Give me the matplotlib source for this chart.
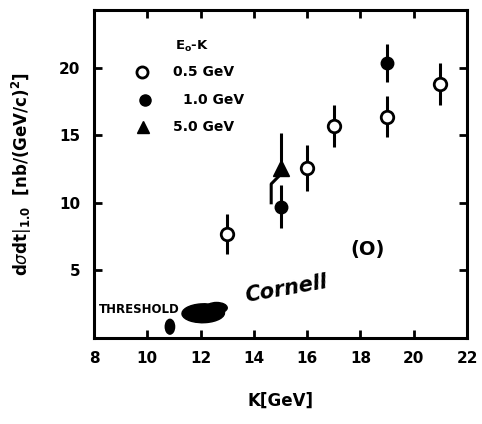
import matplotlib.pyplot as plt
from matplotlib.patches import Ellipse

# data
k_open = [13, 16, 17, 19, 21]
y_open = [7.7, 12.6, 15.7, 16.4, 18.8]
err_open = [1.5, 1.7, 1.55, 1.5, 1.55]

k_full = [15, 19]
y_full = [9.7, 20.4]
err_full = [1.6, 1.4]

k_tri = [15]
y_tri = [12.6]
err_tri_up = [2.6]
err_tri_lo = [2.6]

legend_labels = ['0.5 GeV', '1.0 GeV', '5.0 GeV']
xticks = [8, 10, 12, 14, 16, 18, 20, 22]
yticks = [5, 10, 15, 20]

plt.rcParams['font.family'] = ['DejaVu Sans']

fig = plt.figure(figsize=(4.82, 4.24), dpi=100)
ax = fig.add_axes([0.195, 0.204, 0.774, 0.772])

ebkw = dict(fmt='none', ecolor='black', elinewidth=2.2, capsize=0, zorder=2)

ax.errorbar(k_open, y_open, yerr=err_open, **ebkw)
ax.plot(k_open, y_open, 'o', ms=9, mfc='white', mec='black', mew=2, zorder=3)

ax.errorbar(k_full, y_full, yerr=err_full, **ebkw)
ax.plot(k_full, y_full, 'o', ms=9, color='black', zorder=3)

# triangle: upper bar straight, lower bar bent aside
ax.errorbar(k_tri, y_tri, yerr=[[0], err_tri_up], **ebkw)
for x, y, lo in zip(k_tri, y_tri, err_tri_lo):
    ax.plot([x - 0.05, x - 0.35, x - 0.35], [y - 0.6, y - 1.2, y - lo],
            color='black', lw=2.2, zorder=2)
ax.plot(k_tri, y_tri, '^', ms=11, color='black', zorder=3)

# legend drawn by hand like the original
ax.text(11.05, 21.6, r'E$_{\mathregular{o}}$-K', fontsize=9.5, fontweight='bold',
        va='center')
ax.plot([9.8], [19.7], 'o', ms=8, mfc='white', mec='black', mew=2)
ax.plot([9.9], [17.6], 'o', ms=8, color='black')
ax.plot([9.85], [15.6], '^', ms=9, color='black')
for lab, yy, xx in zip(legend_labels, [19.7, 17.6, 15.6], [10.97, 11.35, 10.97]):
    ax.text(xx, yy, lab, fontsize=10, fontweight='bold', va='center')

# annotations
ax.text(8.2, 2.1, 'THRESHOLD', fontsize=8.5, fontweight='bold', va='center')
ax.add_patch(Ellipse((12.1, 1.8), 1.6, 1.4, angle=8, color='black', zorder=4))
ax.add_patch(Ellipse((12.6, 2.2), 0.8, 0.8, color='black', zorder=4))
ax.add_patch(Ellipse((10.85, 0.8), 0.35, 1.1, color='black', zorder=4))
ax.text(15.2, 3.6, 'Cornell', fontsize=15, fontweight='bold', style='italic',
        rotation=10, ha='center', va='center')
ax.text(18.25, 6.5, '(O)', fontsize=14, fontweight='bold', ha='center',
        va='center')

ax.set_xlim(8, 22)
ax.set_ylim(0, 24.3)
ax.set_xticks(xticks)
ax.set_yticks(yticks)
ax.set_xticklabels([str(t) for t in xticks], fontsize=11, fontweight='bold')
ax.set_yticklabels([str(t) for t in yticks], fontsize=11, fontweight='bold')
ax.tick_params(direction='in', length=6, width=2, top=True, right=True,
               labeltop=False, labelright=False, pad=10)
for s in ax.spines.values():
    s.set_linewidth(2.2)

ax.set_xlabel('K[GeV]', fontsize=12, fontweight='bold', labelpad=18)
ax.set_ylabel(r'd$\sigma$dt$|_{\mathregular{1.0}}$  [nb/(GeV/c)$^{\mathregular{2}}$]',
              fontsize=12, fontweight='bold', labelpad=18)

fig.savefig('out.png', dpi=100)
